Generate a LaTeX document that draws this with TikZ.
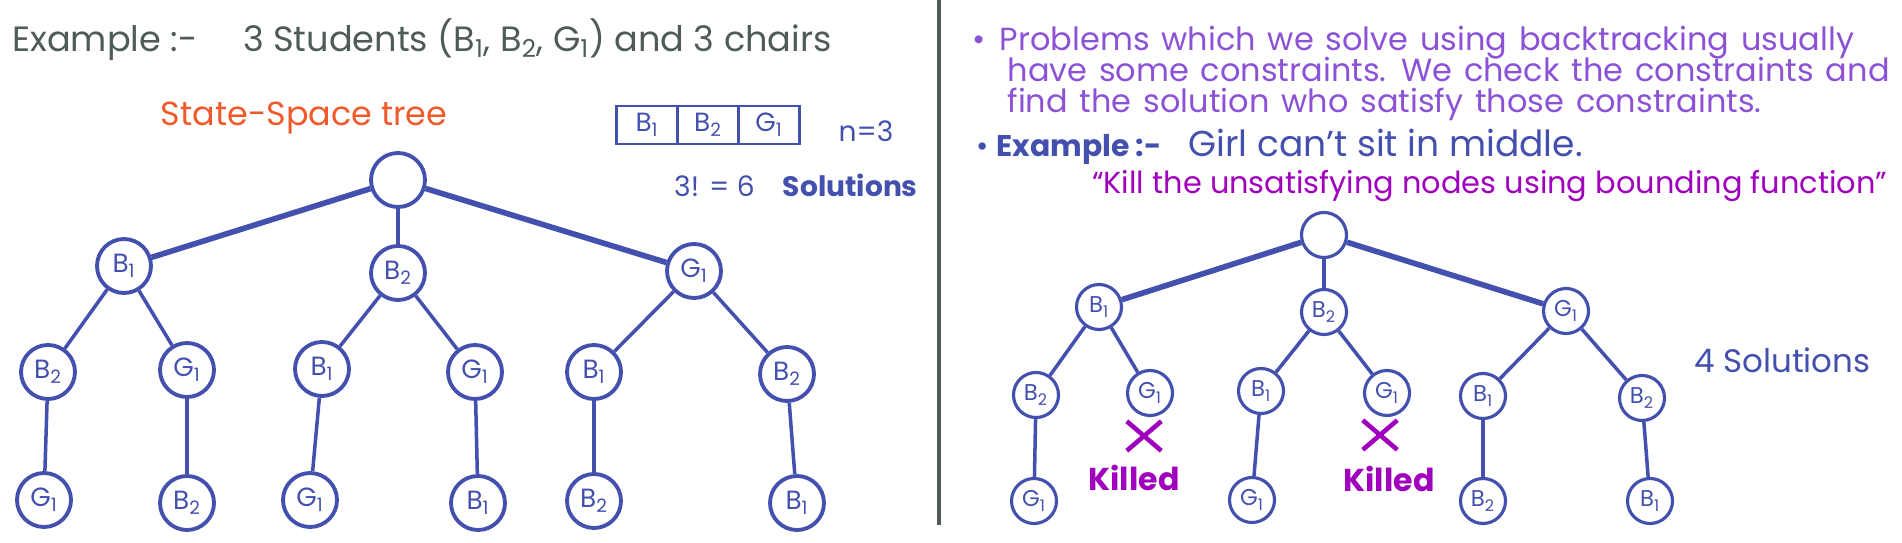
\documentclass[tikz,border=0pt]{standalone}
\usepackage{fontspec}
\setmainfont{Poppins}
\usetikzlibrary{positioning,shapes.misc}

\definecolor{treeblue}{HTML}{4350AE}
\definecolor{slategray}{HTML}{4F5B58}
\definecolor{titleorange}{HTML}{F05A2A}
\definecolor{notepurple}{HTML}{8C52D6}
\definecolor{killpink}{HTML}{A000BE}
\newcommand{\sub}[1]{\textsubscript{#1}}
\newcommand{\tightlines}{\lineskiplimit=-100pt\spaceskip=0.37em\relax}

\tikzset{
  bignode/.style={circle,draw=treeblue,line width=2.2pt,minimum size=1.08cm,inner sep=0pt,
    text=treeblue,font=\fontsize{15}{15}\selectfont},
  smallnode/.style={bignode,line width=1.8pt,minimum size=0.9cm,font=\fontsize{13}{13}\selectfont},
  branch/.style={draw=treeblue,line width=2pt},
  heavybranch/.style={branch,line width=3.2pt},
  cell/.style={rectangle,draw=treeblue,line width=1.6pt,minimum width=1.22cm,minimum height=0.76cm,
    inner sep=0pt,outer sep=0pt,text=treeblue,font=\fontsize{15}{15}\selectfont},
  killmark/.style={cross out,draw=killpink,line width=2.6pt,minimum width=0.6cm,minimum height=0.5cm,inner sep=0pt},
  killtext/.style={text=killpink,font=\bfseries\fontsize{18}{18}\selectfont}
}

\begin{document}
\begin{tikzpicture}[x=0.02cm,y=-0.02cm]
\useasboundingbox (0,0) rectangle (1902,543);

% divider between the two halves
\draw[slategray,line width=2.4pt] (939,0)--(939,525);

% left half: the heading
\node[anchor=west,text=slategray,font=\fontsize{20}{22}\selectfont] (heading) at (6,40)
  {Example :-\hspace{1.3em}3 Students (B\sub{1}, B\sub{2}, G\sub{1}) and 3 chairs};
\node[text=titleorange,font=\fontsize{19}{22}\selectfont] (sstitle) at (304,118) {State-Space tree};

% the three chairs
\node[cell] (chair1) at (647,125) {B\sub{1}};
\node[cell,right=0pt of chair1] (chair2) {B\sub{2}};
\node[cell,right=0pt of chair2] (chair3) {G\sub{1}};
\node[text=treeblue,font=\fontsize{16}{16}\selectfont] (nval) at (866,131) {n=3};
\node[anchor=west,text=treeblue,font=\fontsize{16}{16}\selectfont] (nsol) at (668,185)
  {3! = 6\hspace{1em}\textbf{Solutions}};

% full state-space tree
\node[bignode] (lroot) at (398,180) {};
\node[bignode] (lb1) at (124,266) {B\sub{1}};
\node[bignode] (lb2) at (398,273) {B\sub{2}};
\node[bignode] (lg1) at (694,271) {G\sub{1}};
\node[bignode] (lb1b2) at (48,372) {B\sub{2}};
\node[bignode] (lb1g1) at (187,370) {G\sub{1}};
\node[bignode] (lb2b1) at (322,369) {B\sub{1}};
\node[bignode] (lb2g1) at (475,372) {G\sub{1}};
\node[bignode] (lg1b1) at (594,372) {B\sub{1}};
\node[bignode] (lg1b2) at (787,374) {B\sub{2}};
\node[bignode] (lb1b2g1) at (44,500) {G\sub{1}};
\node[bignode] (lb1g1b2) at (187,503) {B\sub{2}};
\node[bignode] (lb2b1g1) at (310,500) {G\sub{1}};
\node[bignode] (lb2g1b1) at (478,503) {B\sub{1}};
\node[bignode] (lg1b1b2) at (594,501) {B\sub{2}};
\node[bignode] (lg1b2b1) at (797,503) {B\sub{1}};

\draw[heavybranch] (lroot)--(lb1);
\draw[branch] (lroot)--(lb2);
\draw[heavybranch] (lroot)--(lg1);
\draw[branch] (lb1)--(lb1b2);
\draw[branch] (lb1)--(lb1g1);
\draw[branch] (lb2)--(lb2b1);
\draw[branch] (lb2)--(lb2g1);
\draw[branch] (lg1)--(lg1b1);
\draw[branch] (lg1)--(lg1b2);
\draw[branch] (lb1b2)--(lb1b2g1);
\draw[branch] (lb1g1)--(lb1g1b2);
\draw[branch] (lb2b1)--(lb2b1g1);
\draw[branch] (lb2g1)--(lb2g1b1);
\draw[branch] (lg1b1)--(lg1b1b2);
\draw[branch] (lg1b2)--(lg1b2b1);

% right half: the notes
\node[anchor=north west,align=left,inner sep=0pt,text=notepurple,
  font=\fontsize{18.2}{17.5}\selectfont\tightlines] (notes) at (972,26)
  {\textbullet\hspace{0.45em}Problems which we solve using backtracking usually\\
   \hspace*{1.1em}have some constraints. We check the constraints and\\
   \hspace*{1.1em}find the solution who satisfy those constraints.};
\node[anchor=west,text=treeblue,font=\fontsize{17}{17}\selectfont] (rule) at (970,147)
  {\textbullet\ \textbf{Example :-}\hspace{0.9em}{\fontsize{20.5}{20}\selectfont Girl can't sit in middle.}};
\node[anchor=west,text=killpink,font=\fontsize{17.3}{18}\selectfont] (bound) at (1086,186)
  {“Kill the unsatisfying nodes using bounding function”};

% tree after the bounding function
\node[smallnode] (rroot) at (1324,235) {};
\node[smallnode] (rb1) at (1099,307) {B\sub{1}};
\node[smallnode] (rb2) at (1324,312) {B\sub{2}};
\node[smallnode] (rg1) at (1566,311) {G\sub{1}};
\node[smallnode] (rb1b2) at (1036,395) {B\sub{2}};
\node[smallnode] (rb1g1) at (1150,393) {G\sub{1}};
\node[smallnode] (rb2b1) at (1261,391) {B\sub{1}};
\node[smallnode] (rb2g1) at (1387,393) {G\sub{1}};
\node[smallnode] (rg1b1) at (1483,396) {B\sub{1}};
\node[smallnode] (rg1b2) at (1642,398) {B\sub{2}};
\node[smallnode] (rb1b2g1) at (1034,501) {G\sub{1}};
\node[smallnode] (rb2b1g1) at (1252,500) {G\sub{1}};
\node[smallnode] (rg1b1b2) at (1483,501) {B\sub{2}};
\node[smallnode] (rg1b2b1) at (1650,501) {B\sub{1}};

\draw[heavybranch] (rroot)--(rb1);
\draw[branch] (rroot)--(rb2);
\draw[heavybranch] (rroot)--(rg1);
\draw[branch] (rb1)--(rb1b2);
\draw[branch] (rb1)--(rb1g1);
\draw[branch] (rb2)--(rb2b1);
\draw[branch] (rb2)--(rb2g1);
\draw[branch] (rg1)--(rg1b1);
\draw[branch] (rg1)--(rg1b2);
\draw[branch] (rb1b2)--(rb1b2g1);
\draw[branch] (rb2b1)--(rb2b1g1);
\draw[branch] (rg1b1)--(rg1b1b2);
\draw[branch] (rg1b2)--(rg1b2b1);

% killed nodes
\node[killmark] (kill1) at (1144,436) {};
\node[killmark] (kill2) at (1380,435) {};
\node[killtext] (killed1) at (1134,478) {Killed};
\node[killtext] (killed2) at (1389,479) {Killed};
\node[anchor=west,text=treeblue,font=\fontsize{18.5}{18}\selectfont] (rsol) at (1688,360) {4 Solutions};
\end{tikzpicture}
\end{document}
